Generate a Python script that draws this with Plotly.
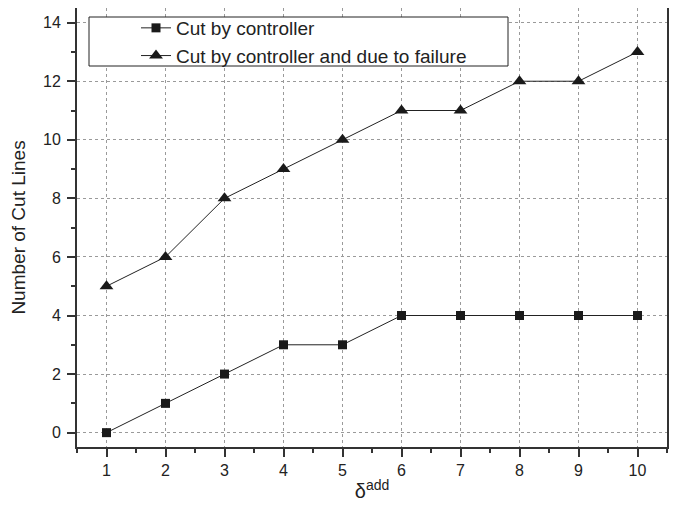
import plotly.graph_objects as go

delta_add = [1, 2, 3, 4, 5, 6, 7, 8, 9, 10]
cut_by_controller = [0, 1, 2, 3, 3, 4, 4, 4, 4, 4]
cut_by_controller_and_failure = [5, 6, 8, 9, 10, 11, 11, 12, 12, 13]

FONT = "Liberation Sans, Arial, sans-serif"
INK = "#222222"

# figure geometry (page body adds an 8px offset)
W, H = 669, 503
ML, MR, MT, MB = 69, 10, 0, 64
PW, PH = W - ML - MR, H - MT - MB

def px_x(x):
    return (x - ML) / PW

def px_y(y):
    return (H - MB - y) / PH

fig = go.Figure()
fig.add_trace(go.Scatter(
    x=delta_add, y=cut_by_controller, mode="lines+markers",
    name="Cut by controller",
    line=dict(color=INK, width=1),
    marker=dict(symbol="square", size=9, color="#1a1a1a"),
))
fig.add_trace(go.Scatter(
    x=delta_add, y=cut_by_controller_and_failure, mode="lines+markers",
    name="Cut by controller and due to failure",
    line=dict(color=INK, width=1),
    marker=dict(symbol="triangle-up", size=12, color="#1a1a1a"),
))

axis_common = dict(
    showline=True, linecolor="#333333", linewidth=2, mirror=True,
    ticks="outside", ticklen=8, tickwidth=2, tickcolor="#333333",
    showgrid=True, gridcolor="#9a9a9a", griddash="dot", gridwidth=1,
    zeroline=False,
    tickfont=dict(family=FONT, size=16, color=INK),
)

fig.update_xaxes(
    range=[0.5, 10.5], tickmode="array", tickvals=delta_add,
    ticklabelstandoff=0,
    minor=dict(dtick=0.5, tick0=0.5, ticklen=4, tickwidth=2, tickcolor="#333333", ticks="outside", showgrid=False),
    title=dict(text="δ<sup>add</sup>", font=dict(family=FONT, size=20, color=INK), standoff=6),
    **axis_common,
)
fig.update_yaxes(
    range=[-0.49, 14.5], tickmode="linear", tick0=0, dtick=2,
    ticklabelstandoff=3,
    minor=dict(dtick=1, tick0=0, ticklen=4, tickwidth=2, tickcolor="#333333", ticks="outside", showgrid=False),
    title=dict(text="Number of Cut Lines", font=dict(family=FONT, size=19, color=INK), standoff=17),
    **axis_common,
)

# legend frame
fig.add_shape(
    type="rect", xref="paper", yref="paper",
    x0=px_x(81), x1=px_x(500), y0=px_y(58), y1=px_y(9),
    line=dict(color=INK, width=1), fillcolor="white", layer="above",
)

fig.update_layout(
    width=W, height=H,
    margin=dict(l=ML, r=MR, t=MT, b=MB, autoexpand=False),
    plot_bgcolor="white", paper_bgcolor="white",
    legend=dict(
        x=px_x(128), y=px_y(1), xanchor="left", yanchor="top",
        borderwidth=0, bgcolor="rgba(0,0,0,0)",
        font=dict(family=FONT, size=19, color=INK),
        tracegroupgap=0,
    ),
)

fig.write_html("out.html")
